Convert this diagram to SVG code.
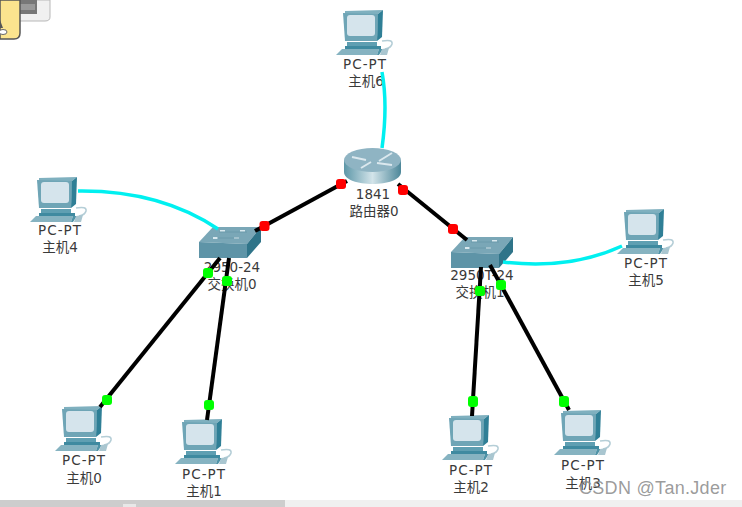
<svg xmlns="http://www.w3.org/2000/svg" width="742" height="507" viewBox="0 0 742 507">
<style>
text{font-family:"DejaVu Sans","Noto Sans CJK SC",sans-serif;font-size:13.500px;fill:#3a3a3a;text-anchor:middle}
.pt{letter-spacing:1px}
.wm{font-family:"Liberation Sans","Noto Sans",sans-serif;font-size:18px;fill:#8a8a8a;fill-opacity:.85;text-anchor:start;letter-spacing:.3px}
.k{fill:none;stroke:#000;stroke-width:4}
.c{fill:none;stroke:#00f0f0;stroke-width:3.500}
.r{fill:#f00}.g{fill:#0f0}
</style>
<defs>
<linearGradient id="rg" x1="0" x2="1" y1="0" y2="0"><stop offset="0" stop-color="#5d97a8"/><stop offset=".5" stop-color="#d3e4ea"/><stop offset="1" stop-color="#4d8799"/></linearGradient>
<g id="pc">
<path d="M2 0L40 -1L35 3L34 30H2Z" fill="#7fb0bf"/>
<path d="M0 2L35 3L34 30H2Z" fill="#6fa5b6"/>
<path d="M35 3L40 -1L39 26L34 30Z" fill="#2f7f96"/>
<rect x="4" y="4" width="28" height="21" rx="3" fill="#d5e4ec"/>
<path d="M4 31H34V35H4Z" fill="#5f9fb2"/>
<path d="M2 35H38V38H2Z" fill="#3f8aa0"/>
<path d="M-1 38H36L34 44H-7Z" fill="#86b3c1"/>
<path d="M36 38L40 38L36 44H34Z" fill="#4f93a7"/>
<path d="M39 30Q50 28 49 33Q48 37 42 38" fill="none" stroke="#b5ced7" stroke-width="1.600"/>
<path d="M39 38L46 37L44 44H37Z" fill="#a9c6d0"/>
</g>
<g id="sw">
<path d="M0 15L14 0H62L48 17Z" fill="#7aa7b7"/>
<path d="M0 15L48 17V31H0Z" fill="#5e94a7"/>
<path d="M48 17L62 0V15L48 31Z" fill="#2f7489"/>
<g fill="#d8e8ee"><rect x="21" y="3" width="5" height="2"/><rect x="41" y="3" width="5" height="2"/><rect x="14" y="10" width="5" height="2"/><rect x="35" y="10" width="5" height="2"/></g>
<path d="M20 5H48M18 11H40" stroke="#6a9aab" fill="none"/>
</g>
</defs>

<g id="corner">
<path d="M40 0H50V17Q50 21 45 21H18V0Z" fill="#f0f0f0" stroke="#b8b8b8"/>
<rect x="18" y="0" width="19" height="14" fill="#777"/>
<rect x="20" y="4" width="15" height="6" fill="#999"/>
<path d="M0 0H20V33Q20 39 14 39H0Z" fill="#fbe48e" stroke="#555" stroke-width="1.500"/>
<ellipse cx="3" cy="32" rx="4" ry="2.500" fill="#fff" stroke="#666"/>
<path d="M0 20L3 28H0Z" fill="#555"/>
</g>

<rect x="0" y="500" width="742" height="7" fill="#f0f0f0"/>
<rect x="0" y="500" width="285" height="7" fill="#cdcdcd"/>
<rect x="123" y="504" width="13" height="3" fill="#e8e8e8"/>

<g id="pc6"><use href="#pc" x="343" y="11"/><text class="pt" x="365" y="69">PC-PT</text><text x="366" y="86">主机6</text></g>
<g id="pc4"><use href="#pc" x="37" y="178"/><text class="pt" x="60" y="235">PC-PT</text><text x="60" y="252">主机4</text></g>
<g id="pc5"><use href="#pc" x="624" y="210"/><text class="pt" x="646" y="268">PC-PT</text><text x="646" y="285">主机5</text></g>
<g id="pc0"><use href="#pc" x="62" y="407"/><text class="pt" x="84" y="465">PC-PT</text><text x="84" y="483">主机0</text></g>
<g id="pc1"><use href="#pc" x="182" y="420"/><text class="pt" x="204" y="479">PC-PT</text><text x="204" y="496">主机1</text></g>
<g id="pc2"><use href="#pc" x="449" y="416"/><text class="pt" x="471" y="475">PC-PT</text><text x="471" y="492">主机2</text></g>
<g id="pc3"><use href="#pc" x="561" y="411"/><text class="pt" x="583" y="470">PC-PT</text><text x="583" y="488">主机3</text></g>

<g id="router0">
<path d="M344 160V172C344 188 401 188 401 172V160Z" fill="url(#rg)"/>
<ellipse cx="372.500" cy="160" rx="28.500" ry="12" fill="#8fb4c3"/>
<path d="M352 157L366 160M392 153L379 161M361 168L371 162M377 163L392 165" stroke="#dbe8ee" stroke-width="2" fill="none"/>
<text x="373" y="199">1841</text><text x="374" y="216">路由器0</text>
</g>
<g id="switch0"><use href="#sw" x="199" y="227"/><text x="232" y="272">2950-24</text><text x="232" y="289">交换机0</text></g>
<g id="switch1"><use href="#sw" x="451" y="237"/><text x="482" y="280">2950T-24</text><text x="480" y="297">交换机1</text></g>

<g id="connectors">
<path class="c" d="M382 72Q388 105 382 148"/>
<path class="c" d="M78 191Q160 190 218 229"/>
<path class="c" d="M503 262Q570 270 622 246"/>
<path class="k" d="M347 181L255 231"/>
<path class="k" d="M398 184L467 240"/>
<path class="k" d="M220 258L100 407"/>
<path class="k" d="M229 258L207 420"/>
<path class="k" d="M481 267L472 416"/>
<path class="k" d="M490 265L569 410"/>
</g>

<g id="lights">
<rect class="r" x="336" y="179" width="10" height="10" rx="3"/>
<rect class="r" x="398" y="185" width="10" height="10" rx="3"/>
<rect class="r" x="259.500" y="221" width="10" height="10" rx="3"/>
<rect class="r" x="448" y="224" width="10" height="10" rx="3"/>
<rect class="g" x="203" y="268" width="10" height="10" rx="3"/>
<rect class="g" x="222" y="276" width="10" height="10" rx="3"/>
<rect class="g" x="475" y="286" width="10" height="10" rx="3"/>
<rect class="g" x="496" y="280" width="10" height="10" rx="3"/>
<rect class="g" x="102" y="395" width="10" height="10" rx="3"/>
<rect class="g" x="204" y="400" width="10" height="10" rx="3"/>
<rect class="g" x="468" y="396" width="10" height="11" rx="3"/>
<rect class="g" x="559" y="396" width="10" height="11" rx="3"/>
</g>
<text class="wm" x="579" y="494">CSDN @Tan.Jder</text>
</svg>
